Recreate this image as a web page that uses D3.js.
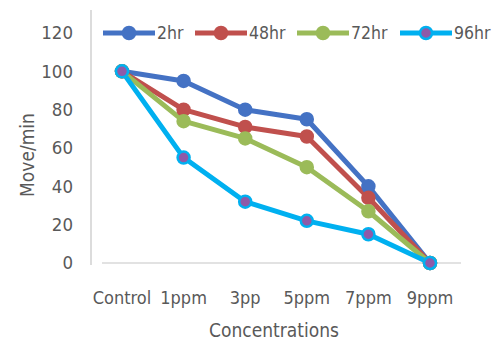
<!DOCTYPE html>
<html>
<head>
<meta charset="utf-8">
<script src="https://cdn.jsdelivr.net/npm/d3@7"></script>
<style>
body { margin: 0; background: #fff; }
text { font-family: "DejaVu Sans Condensed", "Liberation Sans Narrow", sans-serif; font-stretch: condensed; fill: #595959; }
</style>
</head>
<body>
<div id="chart"></div>
<script>
const categories = ['Control', '1ppm', '3pp', '5ppm', '7ppm', '9ppm'];
const seriesNames = ['2hr', '48hr', '72hr', '96hr'];
const hr2 = [100, 95, 80, 75, 40, 0];
const hr48 = [100, 80, 71, 66, 34, 0];
const hr72 = [100, 74, 65, 50, 27, 0];
const hr96 = [100, 55, 32, 22, 15, 0];
const yTicks = [0, 20, 40, 60, 80, 100, 120];

const colors = ['#4472c4', '#c0504d', '#9bbb59', '#00b0f0'];
const markerFill = ['#4472c4', '#c0504d', '#9bbb59', '#8e5aa8'];
const series = [hr2, hr48, hr72, hr96].map((v, i) => ({ name: seriesNames[i], values: v, color: colors[i], fill: markerFill[i] }));

const size = { width: 503, height: 343 };

const scale = {
	x: d3.scalePoint().domain(categories).range([122, 430]),
	y: d3.scaleLinear().domain([0, 120]).range([263, 33]),
};

const svg = d3.select('#chart').append('svg')
	.attr('width', size.width).attr('height', size.height);

// vertical axis line
svg.append('line')
	.attr('x1', 91).attr('x2', 91).attr('y1', 10).attr('y2', 265)
	.attr('stroke', '#d0d0d0').attr('stroke-width', 1.5);

// zero line
svg.append('line')
	.attr('x1', 102).attr('x2', 461)
	.attr('y1', scale.y(0)).attr('y2', scale.y(0))
	.attr('stroke', '#d9d9d9').attr('stroke-width', 1.5);

// y tick labels
svg.append('g').selectAll('text').data(yTicks).join('text')
	.attr('x', 73).attr('y', d => scale.y(d))
	.attr('dy', '0.35em').attr('text-anchor', 'end')
	.attr('font-size', 18.5)
	.text(d => d);

// x tick labels
svg.append('g').selectAll('text').data(categories).join('text')
	.attr('x', d => scale.x(d)).attr('y', 304)
	.attr('text-anchor', 'middle')
	.attr('font-size', 18)
	.text(d => d);

svg.append('text')
	.attr('x', 274).attr('y', 337)
	.attr('text-anchor', 'middle').attr('font-size', 19)
	.text('Concentrations');

svg.append('text')
	.attr('transform', 'translate(34, 155) rotate(-90)')
	.attr('text-anchor', 'middle').attr('font-size', 19)
	.text('Move/min');

const line = d3.line()
	.x((v, i) => scale.x(categories[i]))
	.y(v => scale.y(v));

const g = svg.append('g');
series.forEach(s => {
	g.append('path')
		.attr('d', line(s.values))
		.attr('fill', 'none').attr('stroke', s.color)
		.attr('stroke-width', 5).attr('stroke-linejoin', 'round');
});
series.forEach(s => {
	g.append('g').selectAll('circle').data(s.values).join('circle')
		.attr('cx', (v, i) => scale.x(categories[i]))
		.attr('cy', v => scale.y(v))
		.attr('r', 6)
		.attr('fill', s.fill)
		.attr('stroke', s.color).attr('stroke-width', 2.5);
});

// legend
const legendX = [103, 195, 297, 400];
const legend = svg.append('g');
series.forEach((s, i) => {
	const lg = legend.append('g').attr('transform', `translate(${legendX[i]}, 33)`);
	lg.append('line').attr('x1', 0).attr('x2', 52).attr('stroke', s.color).attr('stroke-width', 5);
	lg.append('circle').attr('cx', 26).attr('r', 6).attr('fill', s.fill)
		.attr('stroke', s.color).attr('stroke-width', 2.5);
	lg.append('text').attr('x', 54).attr('dy', '0.35em').attr('font-size', 17.5).text(s.name);
});
</script>
</body>
</html>
